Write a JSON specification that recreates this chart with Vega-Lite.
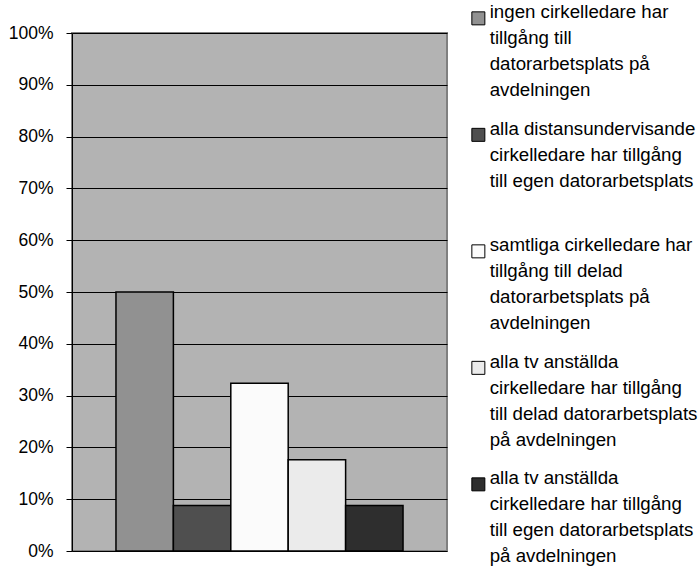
{
  "$schema": "https://vega.github.io/schema/vega-lite/v6.json",
  "autosize": "none",
  "width": 375,
  "height": 518,
  "padding": {"left": 72, "top": 33, "right": 251, "bottom": 18},
  "background": "white",
  "config": {
    "font": "Liberation Sans",
    "view": {"fill": "#b3b3b3", "stroke": "#808080", "strokeWidth": 2}
  },
  "data": {
    "values": [
      {"series": "ingen cirkelledare har|tillgång till|datorarbetsplats på|avdelningen", "share": 0.5},
      {"series": "alla distansundervisande|cirkelledare har tillgång|till egen datorarbetsplats", "share": 0.088},
      {"series": "samtliga cirkelledare har|tillgång till delad|datorarbetsplats på|avdelningen", "share": 0.324},
      {"series": "alla tv anställda|cirkelledare har tillgång|till delad datorarbetsplats|på avdelningen", "share": 0.176},
      {"series": "alla tv anställda |cirkelledare har tillgång|till egen datorarbetsplats|på avdelningen", "share": 0.088}
    ]
  },
  "mark": {"type": "bar", "stroke": "black", "strokeWidth": 1.5},
  "encoding": {
    "x": {
      "field": "series",
      "type": "nominal",
      "sort": null,
      "axis": null,
      "scale": {"paddingInner": 0, "paddingOuter": 0.766}
    },
    "y": {
      "field": "share",
      "type": "quantitative",
      "scale": {"domain": [0, 1], "nice": false},
      "axis": {
        "title": null,
        "format": "%",
        "values": [0, 0.1, 0.2, 0.3, 0.4, 0.5, 0.6, 0.7, 0.8, 0.9, 1],
        "domainColor": "black",
        "domainWidth": 1,
        "tickColor": "black",
        "tickSize": 6,
        "gridColor": "black",
        "gridWidth": 1,
        "gridOpacity": 1,
        "labelFontSize": 17.5,
        "labelColor": "black",
        "labelPadding": 13
      }
    },
    "color": {
      "field": "series",
      "type": "nominal",
      "sort": null,
      "scale": {"range": ["#919191", "#4f4f4f", "#fbfbfb", "#ebebeb", "#2e2e2e"]},
      "legend": {
        "title": null,
        "orient": "none",
        "legendX": 397,
        "legendY": -24,
        "symbolType": "square",
        "symbolSize": 169,
        "symbolStrokeColor": "black",
        "symbolStrokeWidth": 1,
        "symbolOpacity": 1,
        "labelFontSize": 18.7,
        "labelColor": "black",
        "labelLimit": 400,
        "labelOffset": 2,
        "labelBaseline": "alphabetic",
        "labelExpr": "length(split(datum.label, '|')) < 4 ? split(datum.label + '| ', '|') : split(datum.label, '|')",
        "rowPadding": 18.5,
        "encode": {"labels": {"update": {"lineHeight": {"value": 26}}}}
      }
    }
  }
}
